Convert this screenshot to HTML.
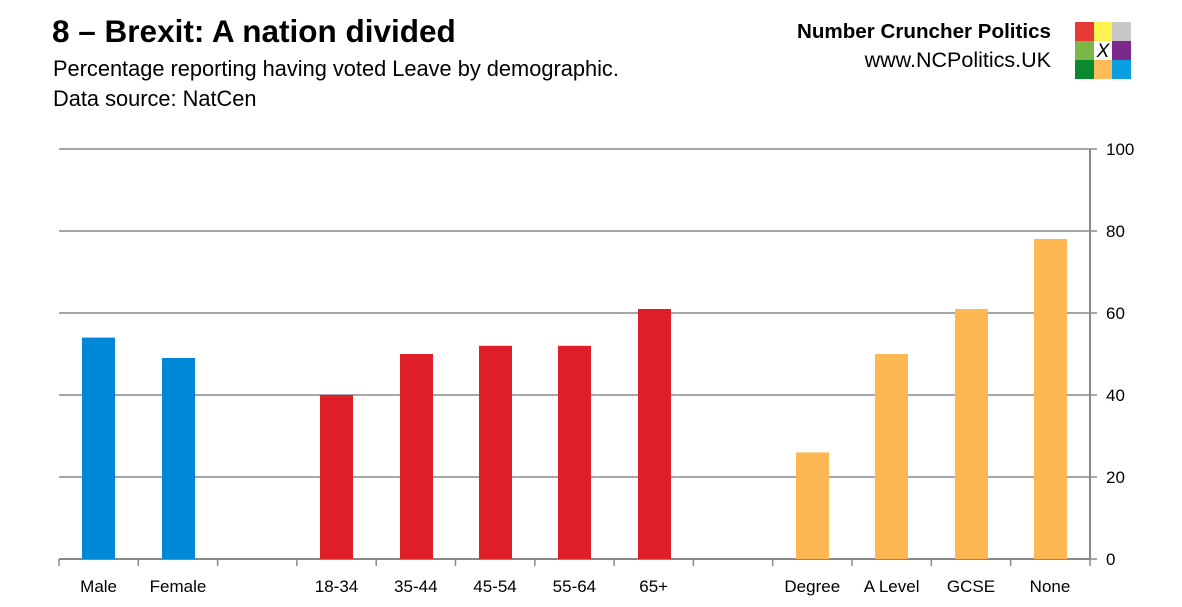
<!DOCTYPE html>
<html><head><style>
body{margin:0;width:1182px;height:607px;background:#fff;font-family:"Liberation Sans",sans-serif;position:relative;overflow:hidden}
.t{position:absolute;white-space:nowrap;color:#000}
</style></head><body>
<div class="t" style="left:52px;top:13px;font-size:31.5px;font-weight:bold">8 – Brexit: A nation divided</div>
<div class="t" style="left:53px;top:56px;font-size:21.8px">Percentage reporting having voted Leave by demographic.</div>
<div class="t" style="left:53px;top:86px;font-size:21.8px">Data source: NatCen</div>
<div class="t" style="right:131px;top:20px;font-size:20.6px;font-weight:bold">Number Cruncher Politics</div>
<div class="t" style="right:131px;top:48px;font-size:21.5px">www.NCPolitics.UK</div>
<svg style="position:absolute;left:0;top:0" width="1182" height="607">
<g>
<rect x="1075" y="22" width="19" height="19" fill="#e53935"/><rect x="1094" y="22" width="18" height="19" fill="#fff250"/><rect x="1112" y="22" width="19" height="19" fill="#c8c8c8"/>
<rect x="1075" y="41" width="19" height="19" fill="#7ab648"/><rect x="1112" y="41" width="19" height="19" fill="#7b2a8c"/>
<rect x="1075" y="60" width="19" height="19" fill="#0a8a2e"/><rect x="1094" y="60" width="18" height="19" fill="#fdbb5a"/><rect x="1112" y="60" width="19" height="19" fill="#0aa0e0"/>
<text x="1103" y="57" font-size="19" font-style="italic" text-anchor="middle" font-family="Liberation Sans">X</text>
</g>
<g stroke="#888" stroke-width="1.5">
<line x1="59" y1="149" x2="1090" y2="149"/><line x1="59" y1="231" x2="1090" y2="231"/><line x1="59" y1="313" x2="1090" y2="313"/><line x1="59" y1="395" x2="1090" y2="395"/><line x1="59" y1="477" x2="1090" y2="477"/>
<line x1="59" y1="559" x2="1090" y2="559" stroke-width="2"/>
<line x1="1090" y1="149" x2="1090" y2="559" stroke-width="2"/>
<line x1="1090" y1="149" x2="1097" y2="149"/><line x1="1090" y1="231" x2="1097" y2="231"/><line x1="1090" y1="313" x2="1097" y2="313"/><line x1="1090" y1="395" x2="1097" y2="395"/><line x1="1090" y1="477" x2="1097" y2="477"/><line x1="1090" y1="559" x2="1097" y2="559"/>
<path d="M59 559v7M138.3 559v7M217.6 559v7M296.9 559v7M376.2 559v7M455.5 559v7M534.8 559v7M614.1 559v7M693.4 559v7M772.7 559v7M852 559v7M931.3 559v7M1010.6 559v7M1090 559v7"/>
</g>
<g fill="#0088d6"><rect x="82" y="337.6" width="33" height="221.4"/><rect x="162" y="358" width="33" height="201"/></g>
<g fill="#df1f27"><rect x="320" y="395" width="33" height="164"/><rect x="400" y="354" width="33" height="205"/><rect x="479" y="345.8" width="33" height="213.2"/><rect x="558" y="345.8" width="33" height="213.2"/><rect x="638" y="309" width="33" height="250"/></g>
<g fill="#fdb853"><rect x="796" y="452.4" width="33" height="106.6"/><rect x="875" y="354" width="33" height="205"/><rect x="955" y="309" width="33" height="250"/><rect x="1034" y="239" width="33" height="320"/></g>
<g font-size="17" font-family="Liberation Sans" text-anchor="middle">
<text x="98.6" y="592">Male</text><text x="178" y="592">Female</text><text x="336.5" y="592">18-34</text><text x="415.8" y="592">35-44</text><text x="495" y="592">45-54</text><text x="574.4" y="592">55-64</text><text x="653.7" y="592">65+</text><text x="812.3" y="592">Degree</text><text x="891.6" y="592">A Level</text><text x="971" y="592">GCSE</text><text x="1050" y="592">None</text>
</g>
<g font-size="17" font-family="Liberation Sans">
<text x="1106" y="155">100</text><text x="1106" y="237">80</text><text x="1106" y="319">60</text><text x="1106" y="401">40</text><text x="1106" y="483">20</text><text x="1106" y="565">0</text>
</g>
</svg>
</body></html>
